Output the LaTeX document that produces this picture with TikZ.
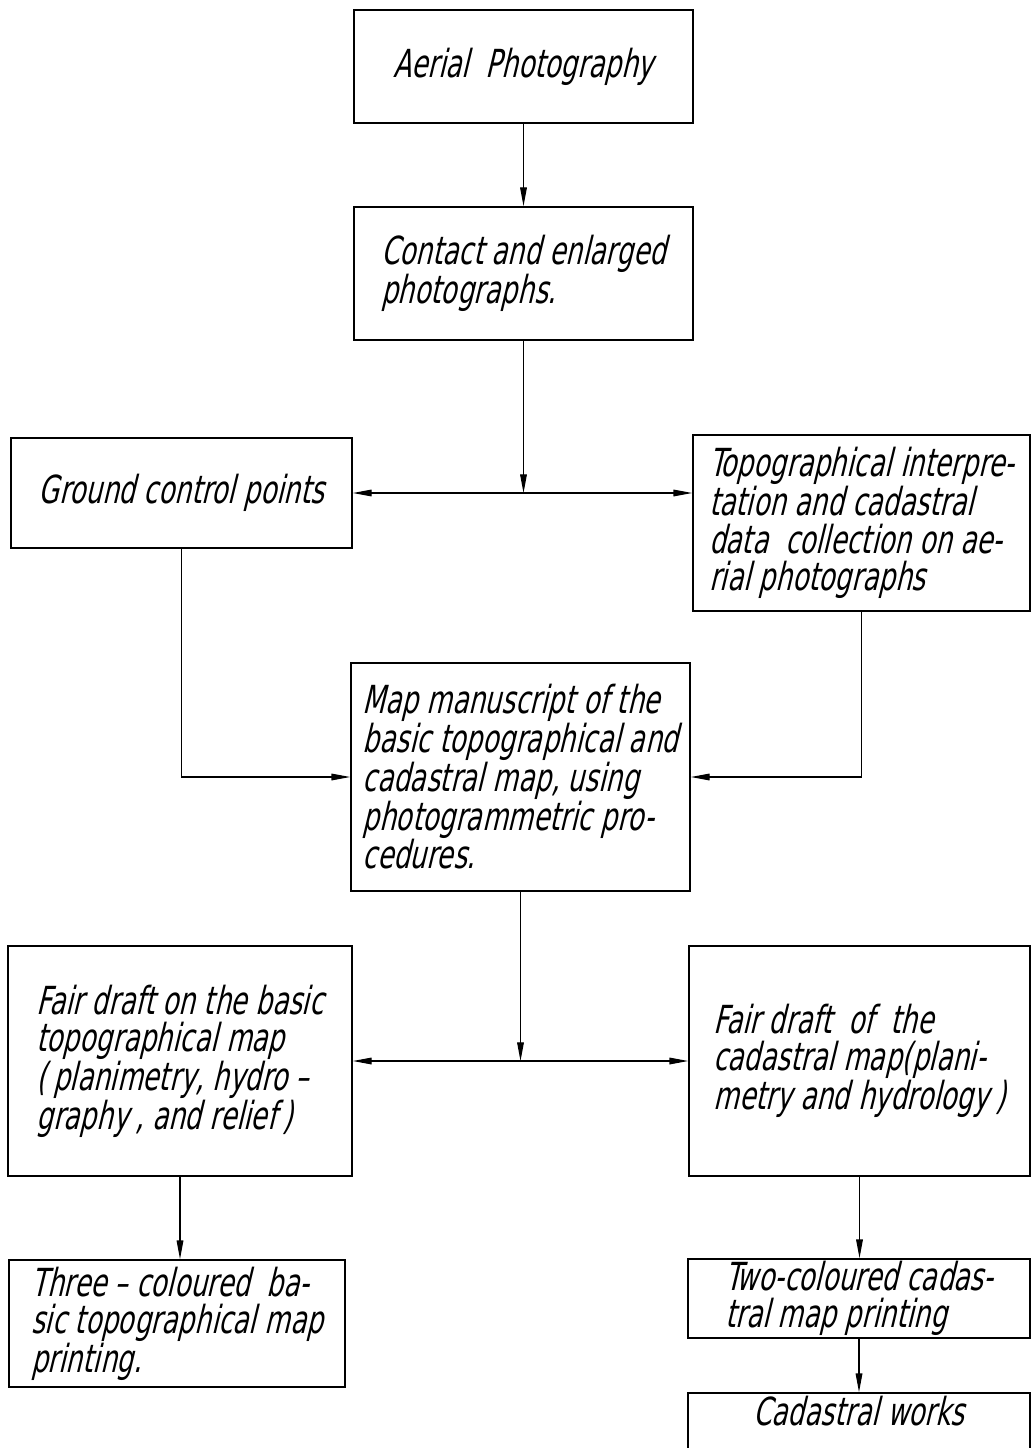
\documentclass[tikz,border=0pt]{standalone}
\usepackage{fontspec}
\setmainfont{DejaVu Sans}[FakeSlant=0.24,FakeStretch=0.68]
\usetikzlibrary{arrows.meta}

\begin{document}
\begin{tikzpicture}[x=0.75pt,y=-0.75pt]
  \tikzset{box/.style 2 args={draw,line width=1.3pt,minimum width=#1*0.75pt,minimum height=#2*0.75pt,
      align=left,inner sep=0pt,font=\fontsize{29}{28}\selectfont}};
  \tikzset{link/.style={line width=0.8pt,-{Triangle[length=14pt,width=5pt]}}};
  \useasboundingbox (0,0) rectangle (1031,1448);
  \clip (0,0) rectangle (1031,1448);
  \node[box={339}{113}] (Aer) at (523.5,66.5) {Aerial\ \ Photography};
  \node[box={339}{133}] (Con) at (523.5,273.5) {Contact and enlarged\\photographs.};
  \node[box={341}{110}] (Gcp) at (181.5,493) {Ground control points};
  \node[box={337}{176}] (Topo) at (861.5,523) {Topographical interpre-\\tation and cadastral\\data\ \ collection on ae-\\rial photographs};
  \node[box={339}{228}] (Man) at (520.5,777) {Map manuscript of the\\basic topographical and\\cadastral map, using\\photogrammetric pro-\\cedures.};
  \node[box={344}{230}] (FdT) at (180,1061) {Fair draft on the basic\\topographical map\\(\,planimetry, hydro –\\graphy\,, and relief\,)};
  \node[box={341}{230}] (FdC) at (859.5,1061) {Fair draft\ \ of\ \ the\\cadastral map(plani-\\metry and hydrology\,)};
  \node[box={336}{127}] (Pr3) at (177,1323.5) {Three – coloured\ \ ba-\\sic topographical map\\printing.};
  \node[box={342}{79}] (Pr2) at (859,1298.5) {Two-coloured cadas-\\tral map printing};
  \node[box={342}{70},text depth=26pt] (Cad) at (859,1428) {Cadastral works};
  \draw[link] (Aer.south) -- (Con.north);
  \coordinate (j1) at (Con.south |- Gcp.east);
  \draw[link] (Con.south) -- (j1);
  \draw[link] (j1) -- (Gcp.east);
  \draw[link] (j1) -- (j1 -| Topo.west);
  \draw[link] (Gcp.south) |- (Man.west);
  \draw[link] (Topo.south) |- (Man.east);
  \coordinate (j2) at (Man.south |- FdT.east);
  \draw[link] (Man.south) -- (j2);
  \draw[link] (j2) -- (FdT.east);
  \draw[link] (j2) -- (FdC.west);
  \draw[link] (FdT.south) -- (FdT.south |- Pr3.north);
  \draw[link] (FdC.south) -- (FdC.south |- Pr2.north);
  \draw[link] (Pr2.south) -- (Pr2.south |- Cad.north);
\end{tikzpicture}
\end{document}
